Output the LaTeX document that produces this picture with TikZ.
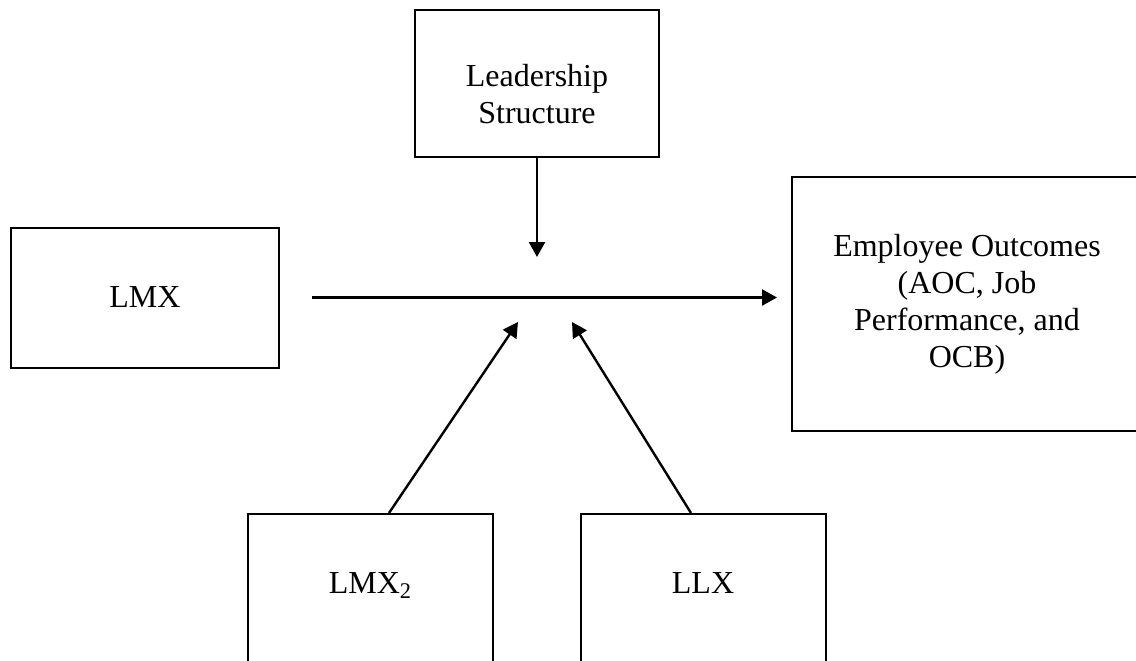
\documentclass[tikz,border=0pt]{standalone}
\usepackage{fontspec}
\setmainfont{Liberation Serif}
\usetikzlibrary{arrows.meta}

\tikzset{
  box/.style={draw, line width=1pt, inner sep=0pt, align=center},
  link/.style={line width=1.2pt, -{Triangle[length=7.5pt,width=8pt]}}
}

\begin{document}
\begin{tikzpicture}[x=0.5pt, y=-0.5pt, font=\fontsize{16pt}{18.5pt}\selectfont]

 \useasboundingbox (0,0) rectangle (1136,660);
 \clip (0,0) rectangle (1136,660);

	%draw boxes
 \node[box, minimum width=122pt, minimum height=73.5pt] (leader) at (537,83.5) {\rule{0pt}{21.5pt}Leadership\\Structure};
 \node[box, minimum width=134pt, minimum height=70pt] (lmx) at (145,297.5) {LMX};
 \node[box, minimum width=175pt, minimum height=127pt] (outcome) at (967,304) {Employee Outcomes\\(AOC, Job\\Performance, and\\OCB)};

    \foreach \x/\txt/\name in {370.5/{LMX\textsubscript{2}}/lmx2,703/LLX/llx}{
         \node[box, anchor=north, minimum width=122.5pt, text height=39.5pt, text depth=80pt] (\name) at (\x,513) {\txt};
    }

	%draw arrows
 \coordinate (mod) at (537,257);
 \coordinate (inL) at (518,322);
 \coordinate (inR) at (572,322);

 \draw[link] (leader.south) -- (mod);
 \draw[link, shorten <=16pt, shorten >=7pt] (lmx.east) -- (lmx.east -| outcome.west);
 \draw[link] ([xshift=9.25pt]lmx2.north) -- (inL);
 \draw[link] ([xshift=-6pt]llx.north) -- (inR);

\end{tikzpicture}
\end{document}
